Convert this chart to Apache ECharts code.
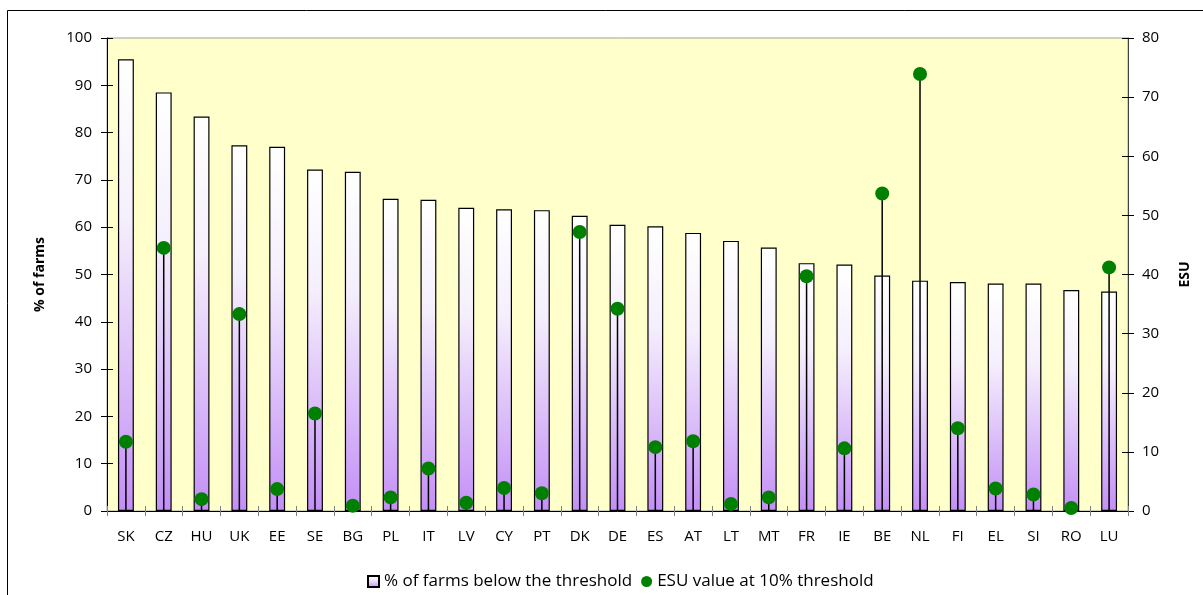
<!DOCTYPE html>
<html>
<head>
<meta charset="utf-8">
<script src="https://cdn.jsdelivr.net/npm/echarts@6/dist/echarts.min.js"></script>
<style>
html,body{margin:0;padding:0;background:#fff;}
#chart{width:1203px;height:595px;}
</style>
</head>
<body>
<div id="chart"></div>
<script>
var countries = ['SK','CZ','HU','UK','EE','SE','BG','PL','IT','LV','CY','PT','DK','DE','ES','AT','LT','MT','FR','IE','BE','NL','FI','EL','SI','RO','LU'];
var pctBelow = [95.5,88.5,83.4,77.3,77.0,72.2,71.7,66.0,65.8,64.1,63.8,63.6,62.4,60.5,60.2,58.8,57.1,55.7,52.4,52.1,49.8,48.7,48.4,48.1,48.1,46.7,46.4];
var esuValue = [11.7,44.5,2.0,33.3,3.7,16.5,0.9,2.3,7.2,1.4,3.9,3.0,47.2,34.2,10.8,11.8,1.2,2.3,39.7,10.6,53.7,73.9,14.0,3.8,2.8,0.5,41.2];
var leftTicks = [0,10,20,30,40,50,60,70,80,90,100];
var rightTicks = [0,10,20,30,40,50,60,70,80];

var FONT = 'Open Sans';
var chart = echarts.init(document.getElementById('chart'));
var barGrad = new echarts.graphic.LinearGradient(0,0,0,1,[
  {offset:0,color:'#ffffff'},
  {offset:0.35,color:'#f5effd'},
  {offset:1,color:'#c38ff6'}
]);
chart.setOption({
  animation:false,
  textStyle:{fontFamily:FONT},
  graphic:[{
    type:'rect', shape:{x:7.5,y:10.5,width:1300,height:700},
    style:{fill:'none',stroke:'#000',lineWidth:1}, z:0
  }],
  grid:{left:107,right:75,top:38,bottom:84,show:true,backgroundColor:'#FFFFCC',borderColor:'#a0a0a0',borderWidth:1},
  legend:{
    bottom:0, left:362, itemGap:9, itemWidth:11, itemHeight:11,
    textStyle:{fontFamily:FONT,fontSize:17,color:'#000'},
    data:[{name:'% of farms below the threshold',icon:'rect'},{name:'ESU value at 10% threshold',icon:'circle'}]
  },
  xAxis:[{
    type:'category', data:countries, position:'bottom',
    axisLine:{lineStyle:{color:'#000',width:1}},
    axisTick:{show:true,inside:false,length:5,alignWithLabel:false,lineStyle:{color:'#808080'}},
    axisLabel:{fontFamily:FONT,fontSize:15,color:'#000',margin:18,interval:0}
  },{
    type:'category', data:countries, position:'bottom',
    axisLine:{show:false},
    axisTick:{show:true,inside:true,length:5,lineStyle:{color:'#808080'}},
    axisLabel:{show:false}
  }],
  yAxis:[{
    type:'value', min:0, max:100, interval:10, position:'left',
    name:'% of farms', nameLocation:'middle', nameGap:60, nameRotate:90,
    nameTextStyle:{fontFamily:FONT,fontSize:14,fontWeight:'bold',color:'#000'},
    axisLine:{show:true,lineStyle:{color:'#000'}},
    axisTick:{show:true,length:6,lineStyle:{color:'#000'}},
    splitLine:{show:false},
    axisLabel:{fontFamily:FONT,fontSize:15,color:'#000',margin:15}
  },{
    type:'value', min:0, max:80, interval:10, position:'right',
    name:'ESU', nameLocation:'middle', nameGap:50, nameRotate:90,
    nameTextStyle:{fontFamily:FONT,fontSize:14,fontWeight:'bold',color:'#000'},
    axisLine:{show:true,lineStyle:{color:'#404040'}},
    axisTick:{show:true,length:6,lineStyle:{color:'#000'}},
    splitLine:{show:false},
    axisLabel:{fontFamily:FONT,fontSize:15,color:'#000',margin:14}
  },{
    type:'value', min:0, max:100, interval:10, position:'left',
    axisLine:{show:false}, axisTick:{show:true,inside:true,length:6,lineStyle:{color:'#000'}},
    axisLabel:{show:false}, splitLine:{show:false}
  },{
    type:'value', min:0, max:80, interval:10, position:'right',
    axisLine:{show:false}, axisTick:{show:true,inside:true,length:6,lineStyle:{color:'#000'}},
    axisLabel:{show:false}, splitLine:{show:false}
  }],
  series:[{
    name:'% of farms below the threshold', type:'bar', data:pctBelow,
    xAxisIndex:0, yAxisIndex:0, barWidth:'42%',
    itemStyle:{color:barGrad,borderColor:'#000',borderWidth:1.2},
    z:2
  },{
    name:'drop', type:'bar', data:esuValue, xAxisIndex:1, yAxisIndex:1,
    barWidth:1.5, itemStyle:{color:'#000'}, z:3, silent:true
  },{
    name:'ESU value at 10% threshold', type:'scatter', data:esuValue,
    xAxisIndex:1, yAxisIndex:1, symbol:'circle', symbolSize:14,
    itemStyle:{color:'#008000',opacity:1}, z:4
  }]
});
</script>
</body>
</html>
